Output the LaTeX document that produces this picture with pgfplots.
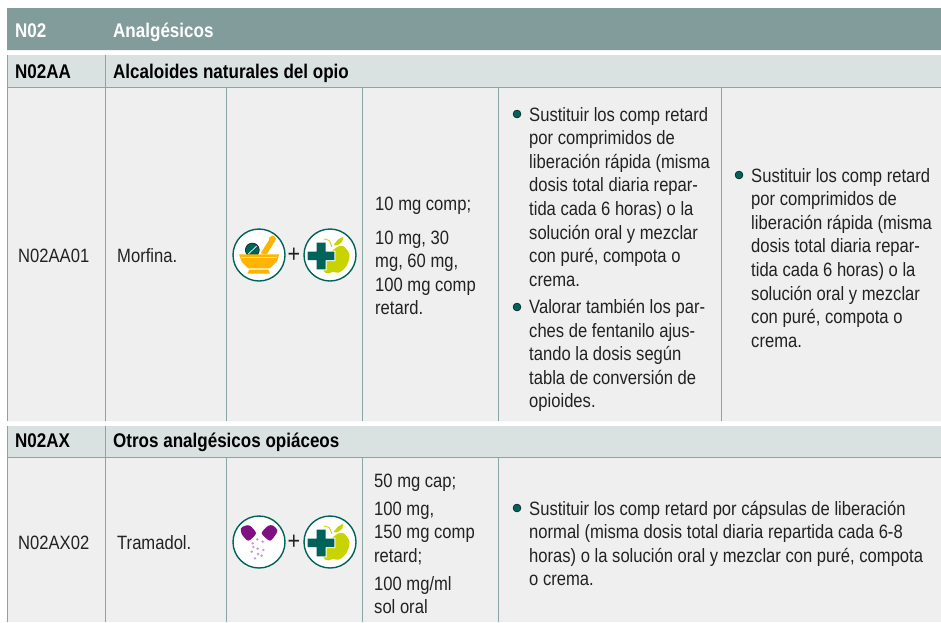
\documentclass[border=0pt]{standalone}
\usepackage{pgfplots}
\usepackage{fontspec}
\pgfplotsset{compat=1.18}
\setmainfont[FakeStretch=0.86]{Liberation Sans}
\definecolor{hdr}{HTML}{819C9B}
\definecolor{sub}{HTML}{DAE2E1}
\definecolor{cell}{HTML}{EFEFEF}
\definecolor{rulec}{HTML}{8BA5A5}
\definecolor{dk}{HTML}{00635A}
\definecolor{org}{HTML}{FFB500}
\definecolor{lime}{HTML}{C8D400}
\definecolor{pur}{HTML}{7F1083}
\definecolor{lil}{HTML}{C89AD0}
\definecolor{txt}{HTML}{222222}
\newcommand{\Tx}[3]{\node[anchor=base west,inner sep=0pt,text=txt,yshift=-1pt] at (axis cs:#1,#2) {#3};}
\newcommand{\Hd}[4]{\node[anchor=base west,inner sep=0pt,text=#3,font=\fontsize{19.8}{22}\selectfont\bfseries] at (axis cs:#1,#2) {#4};}
\newcommand{\Bx}[5]{\addplot[fill=#1,draw=none] coordinates {(#2,#3) (#4,#3) (#4,#5) (#2,#5) (#2,#3)};}
\newcommand{\Ln}[4]{\addplot[color=rulec,line width=1pt] coordinates {(#1,#2) (#3,#4)};}
\newcommand{\Dt}[2]{\addplot[only marks,mark=*,mark size=4pt,mark options={fill=dk,draw=none}] coordinates {(#1,#2)};}
\newcommand{\Ring}[2]{\addplot[only marks,mark=*,mark size=26pt,mark options={fill=white,draw=dk,line width=1.4pt}] coordinates {(#1,#2)};}
\newcommand{\Apple}[2]{%
 \Ring{330}{#2}
 \addplot[fill=lime,draw=none,smooth cycle,tension=0.6,yshift=-#1pt] coordinates {(335,248.5) (343,246) (349.5,255) (346,266.7) (338.5,272.7) (333,271.7) (328.5,273.3) (323.3,270.5) (326,258)};
 \addplot[fill=lime,draw=none,yshift=-#1pt] coordinates {(333.5,245) (338,239.5) (343.5,236.5) (342,242) (337,245.5)};
 \addplot[draw=lime,line width=0.9pt,smooth,yshift=-#1pt] coordinates {(324,239) (329,240.5) (332,247)};
 \addplot[fill=white,draw=none,yshift=-#1pt] coordinates {(315.7,241.7) (326.7,241.7) (326.7,250.7) (335.3,250.7) (335.3,261) (326.7,261) (326.7,270.3) (315.7,270.3) (315.7,261) (306.7,261) (306.7,250.7) (315.7,250.7)};
 \addplot[fill=dk,draw=none,yshift=-#1pt] coordinates {(316.7,242.7) (325.7,242.7) (325.7,251.7) (334.3,251.7) (334.3,260) (325.7,260) (325.7,269.3) (316.7,269.3) (316.7,260) (307.7,260) (307.7,251.7) (316.7,251.7)};
}
\begin{document}
\begin{tikzpicture}
\begin{axis}[
  width=941pt,height=622pt,scale only axis,
  xmin=0,xmax=941,ymin=0,ymax=622,y dir=reverse,
  hide axis,clip=true,clip mode=individual,
  font=\fontsize{19.3}{22}\selectfont]
% page and cells
\Bx{white}{0}{0}{941}{622}
\Bx{hdr}{7}{8}{941}{50}
\Bx{sub}{7}{55}{941}{88}
\Bx{cell}{7}{88}{941}{421}
\Bx{sub}{7}{426}{941}{458}
\Bx{cell}{7}{458}{941}{622}
% rules
\Ln{7}{55}{7}{421}
\Ln{7}{426}{7}{622}
\Ln{7}{87.5}{941}{87.5}
\Ln{7}{457.5}{941}{457.5}
\Ln{105.5}{55}{105.5}{421}
\Ln{226.5}{88}{226.5}{421}
\Ln{362.5}{88}{362.5}{421}
\Ln{498.5}{88}{498.5}{421}
\Ln{721.5}{88}{721.5}{421}
\Ln{105.5}{426}{105.5}{622}
\Ln{226.5}{458}{226.5}{622}
\Ln{362.5}{458}{362.5}{622}
\Ln{498.5}{458}{498.5}{622}
% bullets
\Dt{517}{114}
\Dt{517}{307}
\Dt{739}{175}
\Dt{517}{508}
% mortar icon
\Ring{259}{255}
\addplot[fill=org,draw=none] coordinates {(260.7,253.3) (270,238.3) (275,240.7) (266.7,254.5)};
\addplot[fill=org,draw=none,smooth cycle] coordinates {(269,238) (273,235.5) (276,238.5) (274,241.5) (270,241)};
\addplot[only marks,mark=*,mark size=7pt,mark options={fill=dk,draw=none}] coordinates {(252.3,250)};
\addplot[draw=white,line width=0.7pt] coordinates {(248.3,254) (256.7,246)};
\addplot[fill=org,draw=none] coordinates {(239,254.3) (279.3,254.3) (276.7,261.7) (270,268.3) (248.3,268.3) (241.7,261.7)};
\addplot[draw=white!70!org,line width=0.8pt] coordinates {(240.7,257.3) (277.3,257.3)};
\addplot[fill=org,draw=none] coordinates {(249.3,269.6) (268.3,269.6) (270,273.7) (247.3,273.7)};
\Apple{0}{255}
% capsule icon
\Ring{259}{542}
\addplot[fill=pur,draw=none,smooth cycle,tension=0.45] coordinates {(241,528.3) (245,525.7) (250,525.7) (256,533.3) (248.3,540.7) (241.7,534)};
\addplot[fill=pur,draw=none,smooth cycle,tension=0.45] coordinates {(261.7,533.3) (268.3,525.7) (273.3,525.7) (277.3,530) (276,534) (270,540.7)};
\addplot[only marks,mark=*,mark size=1pt,mark options={fill=lil,draw=lil}] coordinates {(252.7,543.3) (257.7,548.7) (262.7,541.7) (251.7,551.7) (263.3,550) (255,558.3) (261.7,555.7) (257.3,539.3) (253.3,547) (258,554)};
\Apple{287}{542}
% plus signs (icons)
\node[text=txt,inner sep=0pt,font=\fontsize{25}{26}\selectfont] at (axis cs:294,255) {+};
\node[text=txt,inner sep=0pt,font=\fontsize{25}{26}\selectfont] at (axis cs:294,542) {+};
% headings
\Hd{15}{37.5}{white}{N02}
\Hd{113}{37.5}{white}{Analgésicos}
\Hd{15}{78}{black}{N02AA}
\Hd{113}{78}{black}{Alcaloides naturales del opio}
\Hd{15}{447.5}{black}{N02AX}
\Hd{113}{447.5}{black}{Otros analgésicos opiáceos}
% row 1
\Tx{18}{261}{N02AA01}
\Tx{117}{261}{Morfina.}
\Tx{375}{209}{10 mg comp;}
\Tx{375}{243}{10 mg, 30}
\Tx{375}{266}{mg, 60 mg,}
\Tx{375}{290}{100 mg comp}
\Tx{375}{313}{retard.}
\Tx{529}{120}{Sustituir los comp retard}
\Tx{529}{143.6}{por comprimidos de}
\Tx{529}{167.2}{liberación rápida (misma}
\Tx{529}{190.8}{dosis total diaria repar-}
\Tx{529}{214.4}{tida cada 6 horas) o la}
\Tx{529}{238}{solución oral y mezclar}
\Tx{529}{261.6}{con puré, compota o}
\Tx{529}{285.2}{crema.}
\Tx{529}{312.5}{Valorar también los par-}
\Tx{529}{336}{ches de fentanilo ajus-}
\Tx{529}{359.5}{tando la dosis según}
\Tx{529}{383}{tabla de conversión de}
\Tx{529}{406.5}{opioides.}
\Tx{751}{181}{Sustituir los comp retard}
\Tx{751}{204.6}{por comprimidos de}
\Tx{751}{228.2}{liberación rápida (misma}
\Tx{751}{251.8}{dosis total diaria repar-}
\Tx{751}{275.4}{tida cada 6 horas) o la}
\Tx{751}{299}{solución oral y mezclar}
\Tx{751}{322.6}{con puré, compota o}
\Tx{751}{346.2}{crema.}
% row 2
\Tx{18}{548}{N02AX02}
\Tx{117}{548}{Tramadol.}
\Tx{374}{486}{50 mg cap;}
\Tx{374}{514}{100 mg,}
\Tx{374}{537}{150 mg comp}
\Tx{374}{561}{retard;}
\Tx{374}{589}{100 mg/ml}
\Tx{374}{612}{sol oral}
\Tx{529}{514}{Sustituir los comp retard por cápsulas de liberación}
\Tx{529}{537}{normal (misma dosis total diaria repartida cada 6-8}
\Tx{529}{561}{horas) o la solución oral y mezclar con puré, compota}
\Tx{529}{584}{o crema.}
\end{axis}
\end{tikzpicture}
\end{document}
